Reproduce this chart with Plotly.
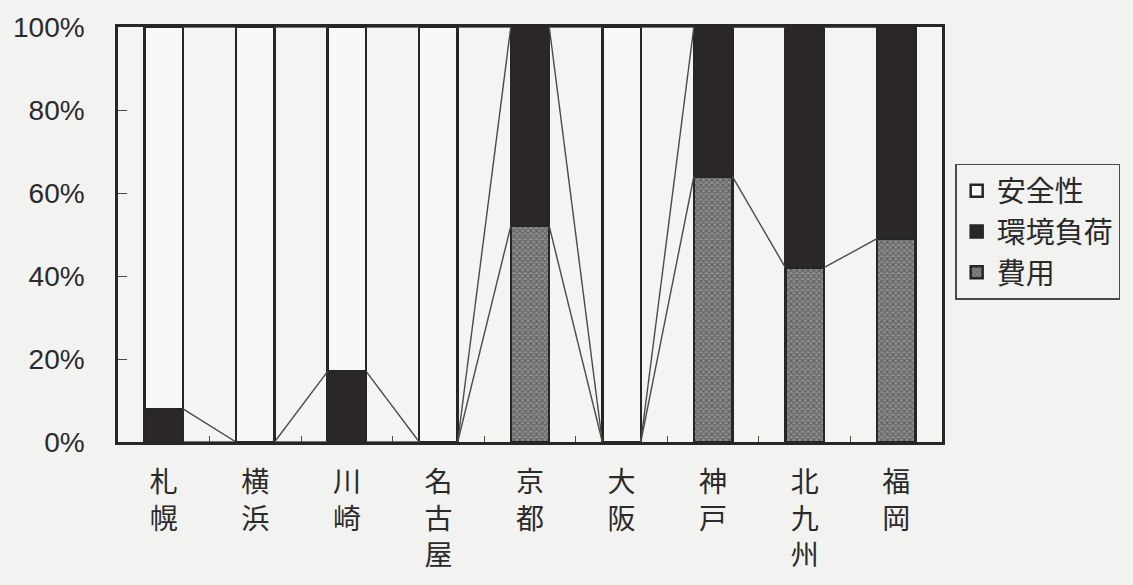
import plotly.graph_objects as go

# data (shares, %)
cities = ["札幌", "横浜", "川崎", "名古屋", "京都", "大阪", "神戸", "北九州", "福岡"]
cost = [0, 0, 0, 0, 52, 0, 64, 42, 49]          # 費用
env = [8, 0, 17, 0, 48, 0, 36, 58, 51]           # 環境負荷
safety = [92, 100, 83, 100, 0, 100, 0, 0, 0]     # 安全性

bar_w = 0.42
x = list(range(len(cities)))
labels = ["<br>".join(c) for c in cities]
cjk = "Noto Sans CJK JP"
edge = "#262626"

fig = go.Figure()

fig.add_trace(go.Bar(
    x=x, y=cost, width=bar_w, name="費用",
    marker=dict(color="#7a7a7a",
                line=dict(color=edge, width=2.5),
                pattern=dict(shape="x", fgcolor="#353535", bgcolor="#8e8e8e",
                             size=4, solidity=0.5)),
))
fig.add_trace(go.Bar(
    x=x, y=env, width=bar_w, name="環境負荷",
    marker=dict(color="#2b2628", line=dict(color=edge, width=2.5)),
))
fig.add_trace(go.Bar(
    x=x, y=safety, width=bar_w, name="安全性",
    marker=dict(color="#f8f8f6", line=dict(color=edge, width=2.5)),
))

# series lines between neighbouring bars (top of each stacked series)
cum1 = cost
cum2 = [a + b for a, b in zip(cost, env)]
cum3 = [a + b + c for a, b, c in zip(cost, env, safety)]
for cum in (cum1, cum2, cum3):
    lx, ly = [], []
    for i in range(len(cities) - 1):
        lx += [i + bar_w / 2, i + 1 - bar_w / 2, None]
        ly += [cum[i], cum[i + 1], None]
    fig.add_trace(go.Scatter(
        x=lx, y=ly, mode="lines", showlegend=False, hoverinfo="skip",
        line=dict(color="#4a4a4a", width=1.4),
    ))

fig.update_layout(
    width=1133, height=585,
    barmode="stack",
    paper_bgcolor="#f2f2f0",
    plot_bgcolor="#f4f4f2",
    margin=dict(l=118, r=191, t=26, b=141),
    font=dict(family="Liberation Sans, Arial", color="#2a2a2a"),
    legend=dict(
        traceorder="reversed",
        x=1.016, y=0.67, xanchor="left", yanchor="top",
        bordercolor="#4a4a4a", borderwidth=1.5,
        bgcolor="rgba(0,0,0,0)",
        font=dict(family=cjk, size=29, color="#2a2a2a"),
        itemwidth=30, tracegroupgap=0,
    ),
    xaxis=dict(
        range=[-0.5, len(cities) - 0.5],
        tickvals=x, ticktext=labels, ticks="",
        tickfont=dict(family=cjk, size=28, color="#2a2a2a"),
        ticklabelstandoff=14,
        showgrid=False, zeroline=False,
        showline=True, linecolor=edge, linewidth=2.5, mirror=True,
    ),
    xaxis2=dict(
        overlaying="x", matches="x", anchor="y",
        tickvals=[i + 0.5 for i in x[:-1]], ticktext=[""] * (len(x) - 1),
        ticks="inside", ticklen=6, tickwidth=1.2, tickcolor="#4a4a4a",
        showgrid=False, zeroline=False, showline=False,
    ),
    yaxis=dict(
        range=[0, 100], dtick=20, ticksuffix="%",
        ticks="inside", ticklen=9, tickwidth=1.2, tickcolor="#4a4a4a",
        tickfont=dict(size=28, color="#2a2a2a"),
        ticklabelstandoff=25,
        showgrid=False, zeroline=False,
        showline=True, linecolor=edge, linewidth=2.5, mirror=True,
    ),
)

# dummy trace to activate the boundary tick axis
fig.add_trace(go.Scatter(x=[0], y=[0], xaxis="x2", mode="markers",
                         marker=dict(opacity=0), showlegend=False, hoverinfo="skip"))

# drop the page margin so the figure sits at the window corner
fig.write_html("out.html", config={"displayModeBar": False},
               post_script="document.body.style.margin='0';")
